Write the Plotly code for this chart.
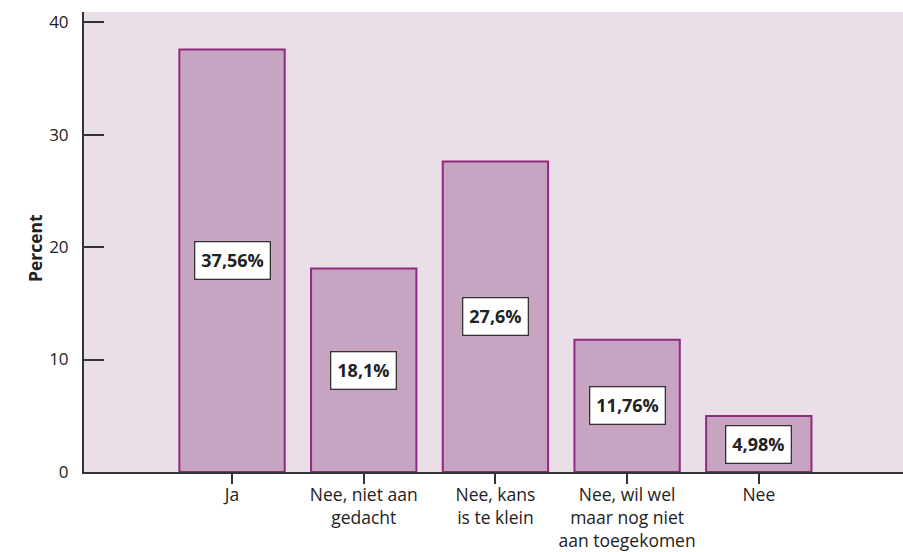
import plotly.graph_objects as go

categories = ["Ja", "Nee, niet aan<br>gedacht", "Nee, kans<br>is te klein",
              "Nee, wil wel<br>maar nog niet<br>aan toegekomen", "Nee"]
values = [37.56, 18.1, 27.6, 11.76, 4.98]
value_labels = ["37,56%", "18,1%", "27,6%", "11,76%", "4,98%"]
y_ticks = [0, 10, 20, 30, 40]

FONT = "Open Sans, Noto Sans, sans-serif"

fig = go.Figure()
fig.add_trace(go.Bar(
    x=list(range(len(categories))), y=values, width=0.8,
    marker=dict(color="#c7a4c2", line=dict(color="#8e2a7f", width=2)),
    hoverinfo="skip",
))

for i, (v, lab) in enumerate(zip(values, value_labels)):
    fig.add_annotation(
        x=i, y=v / 2, text="<b>" + lab + "</b>", showarrow=False,
        font=dict(family=FONT, size=18, color="#222222"),
        bgcolor="white", bordercolor="#333333", borderwidth=1.3, borderpad=6,
    )

fig.add_annotation(
    xref="paper", yref="paper", x=0, y=0.5, xshift=-49, yshift=-6,
    xanchor="center", yanchor="middle", textangle=-90,
    text="<b>Percent</b>", showarrow=False,
    font=dict(family=FONT, size=17.5, color="#222222"),
)

fig.update_layout(
    width=903, height=552,
    margin=dict(l=84, r=0, t=12, b=80),
    paper_bgcolor="white", plot_bgcolor="#eadfe9",
    showlegend=False, bargap=0.2,
    font=dict(family=FONT, size=17.5, color="#222222"),
)
fig.update_xaxes(
    tickmode="array", tickvals=list(range(len(categories))), ticktext=categories,
    range=[-1.124, 5.095], showgrid=False, zeroline=False, automargin=False,
    ticks="outside", ticklen=10, tickwidth=2, tickcolor="#333333",
    showline=True, linecolor="#333333", linewidth=2,
    tickfont=dict(size=17.5, color="#222222"), ticklabelstandoff=-4,
)
fig.update_yaxes(
    tickmode="array", tickvals=y_ticks, range=[0, 40.9],
    showgrid=False, zeroline=False, automargin=False,
    ticks="inside", ticklen=20, tickwidth=2, tickcolor="#333333",
    showline=True, linecolor="#333333", linewidth=2,
    tickfont=dict(size=17, color="#222222"), ticklabelstandoff=10,
)

fig.write_html(
    "out.html",
    config={"displayModeBar": False},
    post_script="document.body.style.margin='0';document.body.style.overflow='hidden';",
)
